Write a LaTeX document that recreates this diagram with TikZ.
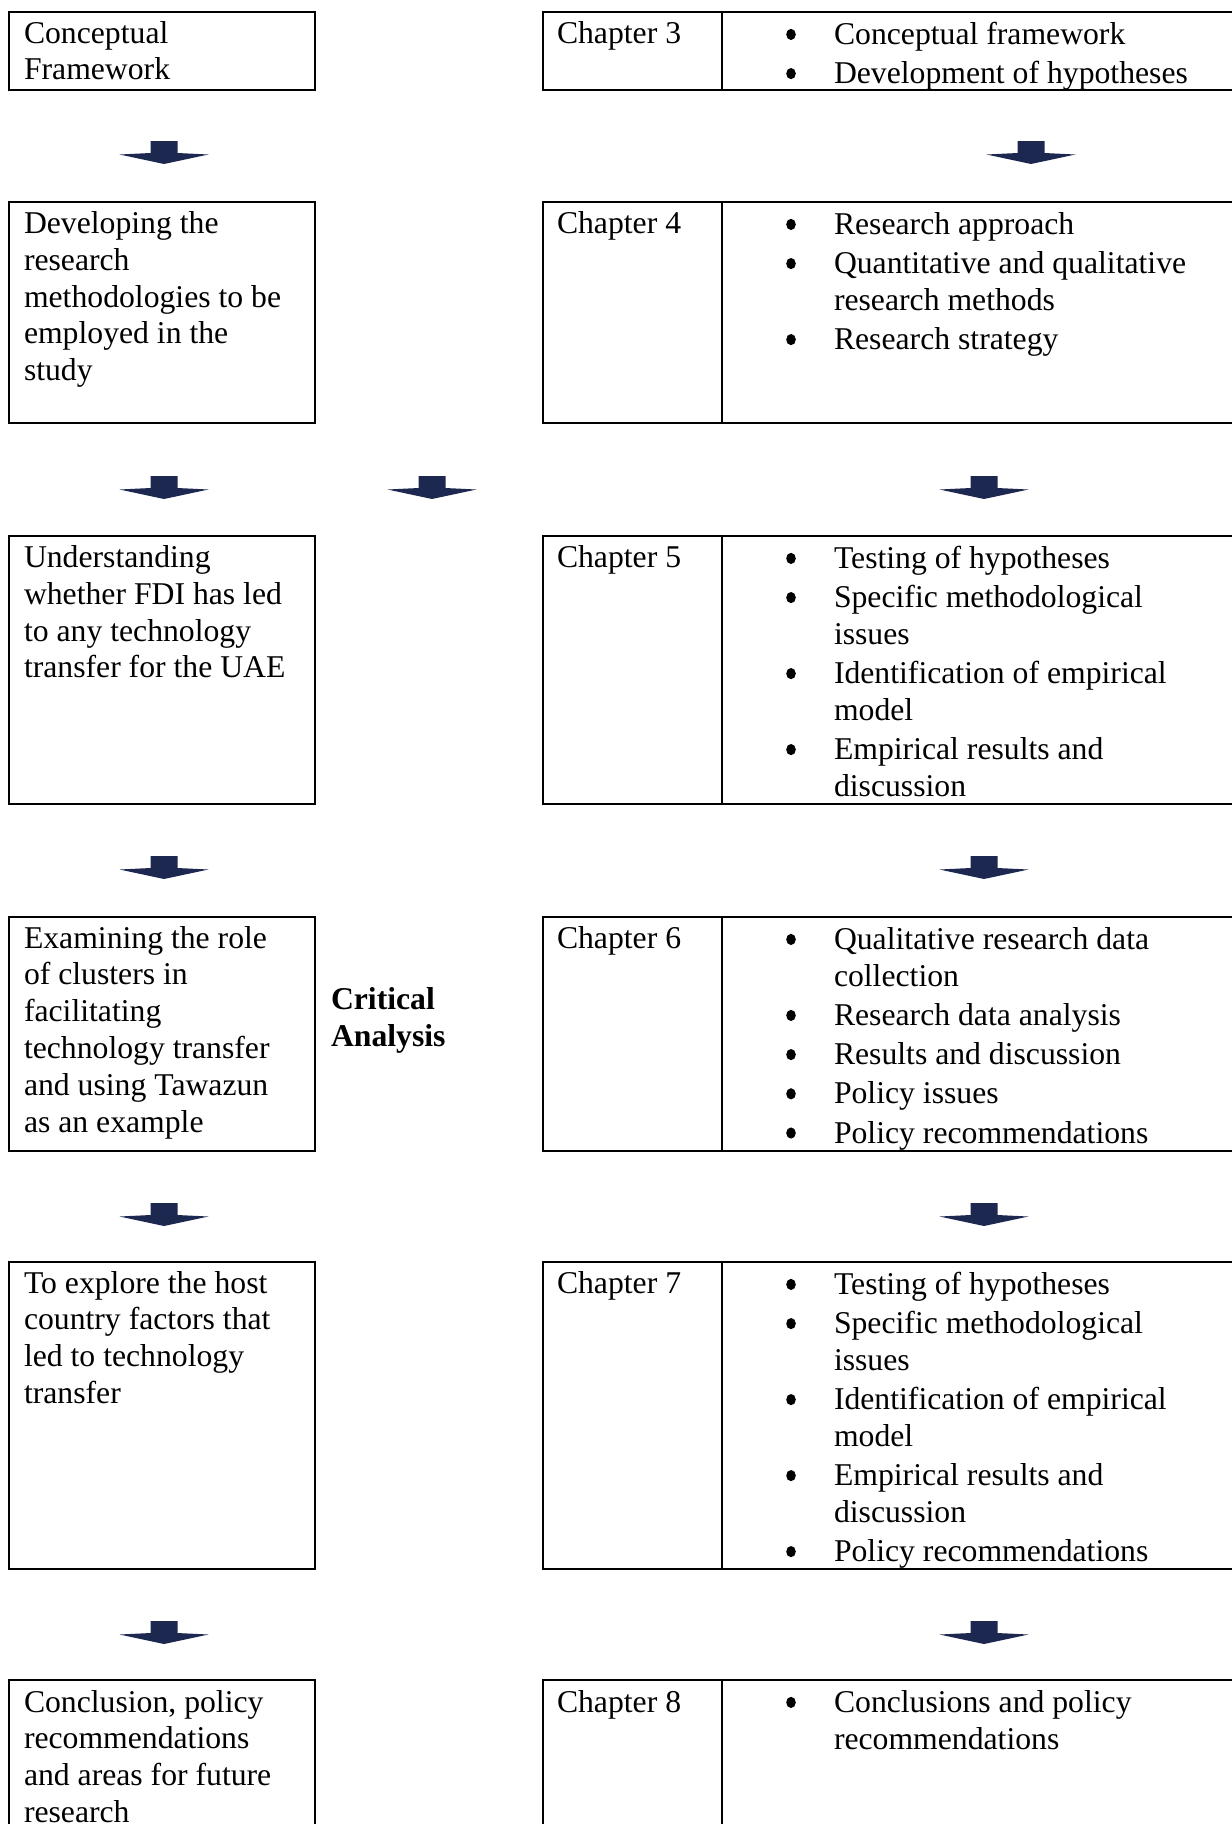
\documentclass[tikz,border=0pt]{standalone}
\usepackage{fontspec}
\setmainfont{Liberation Serif}
\definecolor{arrownavy}{RGB}{28,40,80}
\tikzset{
  frame/.style={draw=black, line width=2.2pt, inner sep=0pt, outer sep=0pt, anchor=north west},
  txt/.style={anchor=base west, inner sep=0pt, outer sep=0pt, font=\fontsize{31.7pt}{36.8pt}\selectfont},
  boldtxt/.style={txt, font=\fontsize{31.7pt}{36.8pt}\selectfont\bfseries},
  flowarrow/.pic={\fill[arrownavy] (-13.5,0) -- (13.5,0) -- (13.5,12) -- (44.5,13.5) -- (0,23) -- (-44.5,13.5) -- (-13.5,12) -- cycle;},
  bul/.style={fill=black}
}
\newcommand{\stack}[1]{\begin{tabular}[t]{@{}l@{}}#1\end{tabular}}
% space added before each bulleted item
\newcommand{\nextitem}{\\[2.4pt]}
% bullets in the right column: first baseline, list of line/item indices
\newcommand{\bullets}[2]{\foreach \L/\I in {#2} \fill[bul] (791,{#1+\L*36.8+\I*2.4-10}) ellipse [x radius=4.8pt, y radius=5.6pt];}

\begin{document}
\begin{tikzpicture}[x=1pt,y=-1pt]
\useasboundingbox (0,0) rectangle (1232,1824);
\clip (0,0) rectangle (1232,1824);
\coordinate (div) at (722,0);

% ---------- row 1 ----------
\node[frame, minimum width=306pt, minimum height=78pt] (L1) at (9,12) {};
\node[frame, minimum width=800pt, minimum height=78pt] (R1) at (543,12) {};
\draw[line width=2.2pt] (R1.north -| div) -- (R1.south -| div);
\node[txt] (L1t) at (24,43) {\stack{Conceptual\\Framework}};
\node[txt] (C3) at (557,43) {Chapter 3};
\node[txt] (R1t) at (834,44.4) {\stack{Conceptual framework\nextitem Development of hypotheses}};
\bullets{44.4}{0/0,1/1}

\pic at (164,141) {flowarrow};
\pic at (1031,141) {flowarrow};

% ---------- row 2 ----------
\node[frame, minimum width=306pt, minimum height=221pt] (L2) at (9,202) {};
\node[frame, minimum width=800pt, minimum height=221pt] (R2) at (543,202) {};
\draw[line width=2.2pt] (R2.north -| div) -- (R2.south -| div);
\node[txt] (L2t) at (24,233.5) {\stack{Developing the\\research\\methodologies to be\\employed in the\\study}};
\node[txt] (C4) at (557,233.5) {Chapter 4};
\node[txt] (R2t) at (834,234.4) {\stack{Research approach\nextitem Quantitative and qualitative\\research methods\nextitem Research strategy}};
\bullets{234.4}{0/0,1/1,3/2}

\pic at (164,476) {flowarrow};
\pic at (432,476) {flowarrow};
\pic at (984,476) {flowarrow};

% ---------- row 3 ----------
\node[frame, minimum width=306pt, minimum height=268pt] (L3) at (9,536) {};
\node[frame, minimum width=800pt, minimum height=268pt] (R3) at (543,536) {};
\draw[line width=2.2pt] (R3.north -| div) -- (R3.south -| div);
\node[txt] (L3t) at (24,567.5) {\stack{Understanding\\whether FDI has led\\to any technology\\transfer for the UAE}};
\node[txt] (C5) at (557,567.5) {Chapter 5};
\node[txt] (R3t) at (834,568.4) {\stack{Testing of hypotheses\nextitem Specific methodological\\issues\nextitem Identification of empirical\\model\nextitem Empirical results and\\discussion}};
\bullets{568.4}{0/0,1/1,3/2,5/3}

\pic at (164,856) {flowarrow};
\pic at (984,856) {flowarrow};

% ---------- row 4 ----------
\node[frame, minimum width=306pt, minimum height=234pt] (L4) at (9,917) {};
\node[frame, minimum width=800pt, minimum height=234pt] (R4) at (543,917) {};
\draw[line width=2.2pt] (R4.north -| div) -- (R4.south -| div);
\node[txt] (L4t) at (24,948) {\stack{Examining the role\\of clusters in\\facilitating\\technology transfer\\and using Tawazun\\as an example}};
\node[boldtxt] (crit) at (331,1009.5) {\stack{Critical\\Analysis}};
\node[txt] (C6) at (557,948) {Chapter 6};
\node[txt] (R4t) at (834,949.4) {\stack{Qualitative research data\\collection\nextitem Research data analysis\nextitem Results and discussion\nextitem Policy issues\nextitem Policy recommendations}};
\bullets{949.4}{0/0,2/1,3/2,4/3,5/4}

\pic at (164,1203) {flowarrow};
\pic at (984,1203) {flowarrow};

% ---------- row 5 ----------
\node[frame, minimum width=306pt, minimum height=307pt] (L5) at (9,1262) {};
\node[frame, minimum width=800pt, minimum height=307pt] (R5) at (543,1262) {};
\draw[line width=2.2pt] (R5.north -| div) -- (R5.south -| div);
\node[txt] (L5t) at (24,1293) {\stack{To explore the host\\country factors that\\led to technology\\transfer}};
\node[txt] (C7) at (557,1293) {Chapter 7};
\node[txt] (R5t) at (834,1294.4) {\stack{Testing of hypotheses\nextitem Specific methodological\\issues\nextitem Identification of empirical\\model\nextitem Empirical results and\\discussion\nextitem Policy recommendations}};
\bullets{1294.4}{0/0,1/1,3/2,5/3,7/4}

\pic at (164,1621) {flowarrow};
\pic at (984,1621) {flowarrow};

% ---------- row 6 ----------
\node[frame, minimum width=306pt, minimum height=300pt] (L6) at (9,1680) {};
\node[frame, minimum width=800pt, minimum height=300pt] (R6) at (543,1680) {};
\draw[line width=2.2pt] (R6.north -| div) -- (R6.south -| div);
\node[txt] (L6t) at (24,1712) {\stack{Conclusion, policy\\recommendations\\and areas for future\\research}};
\node[txt] (C8) at (557,1712) {Chapter 8};
\node[txt] (R6t) at (834,1712.4) {\stack{Conclusions and policy\\recommendations}};
\bullets{1712.4}{0/0}
\end{tikzpicture}
\end{document}
